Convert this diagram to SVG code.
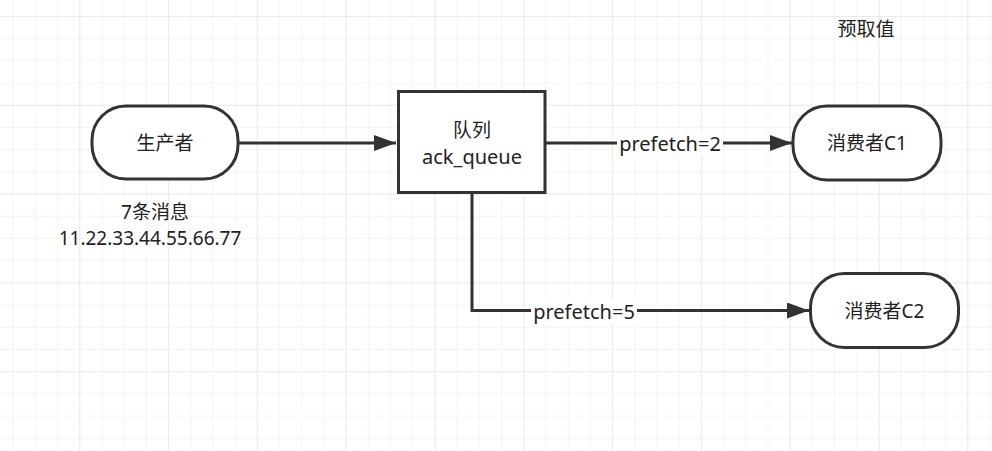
<svg xmlns="http://www.w3.org/2000/svg" width="992" height="451" viewBox="0 0 992 451">
<defs>
<pattern id="grid" x="12.7" y="16" width="22.2" height="22.2" patternUnits="userSpaceOnUse">
<path d="M0 0H22.2M0 0V22.2" fill="none" stroke="#ececec" stroke-width="1"/>
</pattern>
<pattern id="major" x="79.3" y="16" width="88.8" height="88.8" patternUnits="userSpaceOnUse">
<path d="M0 0H88.8M0 0V88.8" fill="none" stroke="#e0e0e0" stroke-width="1"/>
</pattern>
<marker id="arr" viewBox="0 0 22 16" refX="22" refY="8" markerWidth="22" markerHeight="16" markerUnits="userSpaceOnUse" orient="auto">
<path d="M0 0L22 8L0 16Z" fill="#333"/>
</marker>
</defs>
<style>
.shape{fill:#fff;stroke:#333;stroke-width:3}
.edge{fill:none;stroke:#333;stroke-width:3}
text{font-family:"Noto Sans","Noto Sans CJK SC",sans-serif;font-size:19px;fill:#222;text-anchor:middle;dominant-baseline:central}
.big{font-size:20px}
.lbl{fill:#fff;stroke:none}
</style>
<rect width="992" height="451" fill="#fff"/>
<rect width="992" height="451" fill="url(#grid)"/>
<rect width="992" height="451" fill="url(#major)"/>
<g id="connectors">
<path class="edge" d="M238 143H396" marker-end="url(#arr)"/>
<path class="edge" d="M545 143H792" marker-end="url(#arr)"/>
<path class="edge" d="M472 193V310.5H809" marker-end="url(#arr)"/>
<rect class="lbl" x="617" y="131" width="106" height="24"/>
<text class="big" x="670" y="143">prefetch=2</text>
<rect class="lbl" x="531" y="299" width="106" height="24"/>
<text class="big" x="584" y="311">prefetch=5</text>
</g>
<g id="producer">
<rect class="shape" x="92" y="106" width="146" height="73" rx="34" ry="34"/>
<text x="165" y="143">生产者</text>
</g>
<g id="queue">
<rect class="shape" x="398.5" y="91.5" width="146.5" height="101"/>
<text x="472" y="130">队列</text>
<text class="big" x="472" y="156">ack_queue</text>
</g>
<g id="consumer1">
<rect class="shape" x="793" y="106" width="148" height="74" rx="34" ry="34"/>
<text x="867" y="143">消费者C1</text>
</g>
<g id="consumer2">
<rect class="shape" x="810.5" y="273.5" width="148" height="74" rx="34" ry="34"/>
<text x="884.5" y="311">消费者C2</text>
</g>
<g id="note">
<text x="155" y="212">7条消息</text>
<text x="150" y="238">11.22.33.44.55.66.77</text>
</g>
<g id="title">
<text x="866" y="29">预取值</text>
</g>
</svg>
